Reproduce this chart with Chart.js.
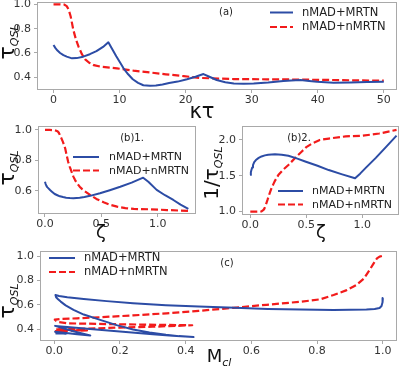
<!DOCTYPE html>
<html>
<head>
<meta charset="utf-8">
<script src="https://cdn.jsdelivr.net/npm/chart.js@4.4.0/dist/chart.umd.min.js"></script>
<style>
  body { margin: 0; background: #fff; }
  #wrap { position: relative; width: 400px; height: 369px; }
  #wrap canvas { position: absolute; left: 0; top: 0; }
</style>
</head>
<body>
<div id="wrap">
  <canvas id="chartA" width="400" height="369"></canvas>
  <canvas id="chartB1" width="400" height="369"></canvas>
  <canvas id="chartB2" width="400" height="369"></canvas>
  <canvas id="chartC" width="400" height="369"></canvas>
</div>
<script>
// ---- data ----
const labelMRTN = "nMAD+MRTN";
const labelNMRTN = "nMAD+nMRTN";

// (a) tau_QSL vs kappa*tau
const aBlueKt = [0, 0.3, 0.6, 1, 1.5, 2, 2.8, 3.5, 4.5, 5.5, 6.5, 7.5, 8.3, 8.9, 9.5, 10.1, 10.6, 11.3, 12, 12.8, 13.6, 14.6, 15.5, 16.5, 17.5, 18.8, 20.2, 21.5, 22.7, 23.6, 24.7, 26, 27.3, 28.8, 30.3, 32.5, 34.8, 36, 37.4, 38.7, 39.9, 42.4, 45, 47.5, 50];
const aBlueTau = [0.666, 0.64, 0.62, 0.6, 0.582, 0.57, 0.556, 0.558, 0.57, 0.59, 0.615, 0.65, 0.688, 0.63, 0.573, 0.52, 0.474, 0.425, 0.384, 0.355, 0.335, 0.33, 0.333, 0.342, 0.353, 0.365, 0.384, 0.405, 0.427, 0.405, 0.378, 0.36, 0.35, 0.347, 0.35, 0.358, 0.37, 0.375, 0.378, 0.37, 0.364, 0.356, 0.358, 0.362, 0.364];
const aRedKt = [0, 1, 1.6, 2.0, 2.3, 2.6, 3.0, 3.4, 3.8, 4.3, 4.8, 5.4, 6.1, 7.1, 8.5, 9.6, 12.1, 14.6, 17, 19.7, 22.2, 25, 27.3, 32.3, 37, 42.4, 46, 50];
const aRedTau = [1.0, 1.0, 0.998, 0.985, 0.955, 0.9, 0.79, 0.71, 0.65, 0.59, 0.548, 0.52, 0.50, 0.488, 0.48, 0.474, 0.455, 0.44, 0.425, 0.41, 0.395, 0.39, 0.386, 0.384, 0.382, 0.378, 0.375, 0.373];
const aTicksX = [0, 10, 20, 30, 40, 50];
const aTicksY = [0.4, 0.6, 0.8, 1.0];

// (b)1 tau_QSL vs zeta
const b1BlueZeta = [0, 0.006, 0.012, 0.02, 0.031, 0.045, 0.059, 0.086, 0.11, 0.132, 0.16, 0.188, 0.22, 0.252, 0.308, 0.35, 0.40, 0.488, 0.575, 0.668, 0.769, 0.871, 0.917, 0.991, 1.065, 1.139, 1.203, 1.272];
const b1BlueTau = [0.661, 0.645, 0.635, 0.625, 0.617, 0.606, 0.597, 0.58, 0.572, 0.565, 0.56, 0.556, 0.554, 0.553, 0.556, 0.561, 0.568, 0.585, 0.605, 0.628, 0.655, 0.687, 0.66, 0.607, 0.572, 0.541, 0.51, 0.482];
const b1RedZeta = [0, 0.04, 0.07, 0.086, 0.1, 0.114, 0.124, 0.132, 0.146, 0.16, 0.179, 0.192, 0.206, 0.22, 0.234, 0.252, 0.266, 0.28, 0.308, 0.33, 0.354, 0.40, 0.456, 0.52, 0.575, 0.64, 0.714, 0.788, 0.936, 1.083, 1.272];
const b1RedTau = [1.0, 1.0, 0.999, 0.998, 0.995, 0.99, 0.98, 0.967, 0.945, 0.92, 0.88, 0.835, 0.79, 0.758, 0.73, 0.694, 0.673, 0.655, 0.628, 0.612, 0.598, 0.574, 0.548, 0.526, 0.51, 0.497, 0.488, 0.482, 0.48, 0.475, 0.469];
const b1TicksX = [0, 0.5, 1.0];
const b1TicksY = [0.6, 0.8, 1.0];

// (b)2 1/tau_QSL vs zeta
const b2BlueZeta = [0, 0.005, 0.01, 0.017, 0.024, 0.035, 0.05, 0.075, 0.1, 0.13, 0.16, 0.22, 0.28, 0.34, 0.42, 0.49, 0.6, 0.7, 0.82, 0.935, 0.98, 1.03, 1.12, 1.21, 1.305];
const b2BlueInv = [1.51, 1.55, 1.58, 1.615, 1.65, 1.69, 1.72, 1.75, 1.77, 1.785, 1.795, 1.80, 1.795, 1.78, 1.74, 1.70, 1.64, 1.58, 1.52, 1.465, 1.53, 1.61, 1.75, 1.90, 2.06];
const b2RedZeta = [0, 0.05, 0.1, 0.115, 0.125, 0.135, 0.144, 0.155, 0.165, 0.178, 0.19, 0.205, 0.22, 0.25, 0.29, 0.34, 0.4, 0.46, 0.5, 0.55, 0.62, 0.7, 0.85, 1.0, 1.15, 1.305];
const b2RedInv = [1.0, 1.0, 1.002, 1.02, 1.04, 1.08, 1.12, 1.17, 1.22, 1.28, 1.33, 1.38, 1.43, 1.51, 1.58, 1.65, 1.75, 1.84, 1.9, 1.95, 2.0, 2.02, 2.05, 2.06, 2.09, 2.14];
const b2TicksX = [0, 0.5, 1.0];
const b2TicksY = [1.0, 1.5, 2.0];

// (c) tau_QSL vs M_cl (parametric)
const cBlueM = [1.0, 0.999, 0.996, 0.99, 0.975, 0.95, 0.9, 0.85, 0.75, 0.65, 0.55, 0.44, 0.34, 0.24, 0.16, 0.09, 0.04, 0.015, 0.004, 0.006, 0.012, 0.02, 0.035, 0.059, 0.09, 0.14, 0.19, 0.24, 0.29, 0.34, 0.38, 0.424, 0.36, 0.3, 0.2, 0.1, 0.04, 0.003, 0.03, 0.07, 0.11, 0.07, 0.03, 0.003, 0.02, 0.035, 0.02, 0.004];
const cBlueTau = [0.655, 0.62, 0.59, 0.574, 0.565, 0.561, 0.559, 0.558, 0.561, 0.566, 0.575, 0.585, 0.597, 0.613, 0.63, 0.648, 0.662, 0.672, 0.68, 0.662, 0.645, 0.626, 0.595, 0.558, 0.52, 0.476, 0.433, 0.398, 0.372, 0.354, 0.343, 0.335, 0.347, 0.358, 0.38, 0.403, 0.417, 0.427, 0.405, 0.375, 0.348, 0.358, 0.37, 0.378, 0.368, 0.362, 0.366, 0.364];
const cRedM = [0.997, 0.99, 0.982, 0.972, 0.963, 0.943, 0.92, 0.89, 0.85, 0.81, 0.75, 0.646, 0.545, 0.44, 0.342, 0.24, 0.14, 0.07, 0.02, 0.002, 0.01, 0.04, 0.2, 0.42, 0.3, 0.2, 0.1, 0.005, 0.05, 0.1, 0.05, 0.005, 0.03, 0.003, 0.015, 0.002];
const cRedTau = [1.0, 0.995, 0.98, 0.94, 0.9, 0.817, 0.763, 0.72, 0.68, 0.645, 0.625, 0.60, 0.575, 0.55, 0.53, 0.513, 0.498, 0.489, 0.484, 0.478, 0.46, 0.448, 0.44, 0.432, 0.42, 0.413, 0.405, 0.398, 0.393, 0.39, 0.386, 0.384, 0.381, 0.379, 0.377, 0.376];
const cTicksX = [0, 0.2, 0.4, 0.6, 0.8, 1.0];
const cTicksY = [0.4, 0.6, 0.8, 1.0];

const BLUE = "#2c4ca5";
const RED = "#f21b1b";
const FONT = '"DejaVu Sans", sans-serif';

const toPoints = (xs, ys) => xs.map((x, i) => ({ x: x, y: ys[i] }));

function blueSet(xs, ys) {
    return { label: labelMRTN, data: toPoints(xs, ys), showLine: true, borderColor: BLUE, borderWidth: 2,
        pointRadius: 0, tension: 0, borderJoinStyle: "round" };
}
function redSet(xs, ys) {
    return { label: labelNMRTN, data: toPoints(xs, ys), showLine: true, borderColor: RED, borderWidth: 2.2,
        borderDash: [7, 3], pointRadius: 0, tension: 0, borderJoinStyle: "round" };
}

// rich text: parts drawn one after another, centred on (x, y) baseline
function drawRich(ctx, t) {
    ctx.save();
    ctx.translate(t.x, t.y);
    if (t.rot) ctx.rotate(t.rot);
    const fontOf = p => (p.italic ? "italic " : "") + p.size + "px " + FONT;
    let w = 0;
    t.parts.forEach(p => { ctx.font = fontOf(p); w += ctx.measureText(p.s).width; });
    let cx = -w / 2;
    ctx.textAlign = "left";
    ctx.textBaseline = "alphabetic";
    ctx.fillStyle = "#111";
    t.parts.forEach(p => {
        ctx.font = fontOf(p);
        ctx.fillText(p.s, cx, p.dy || 0);
        cx += ctx.measureText(p.s).width;
    });
    ctx.restore();
}

// frame, legend inside the axes, titles
const decoPlugin = {
    id: "deco",
    afterDraw(chart, args, opts) {
        const ctx = chart.ctx;
        const a = chart.chartArea;
        ctx.save();
        ctx.strokeStyle = "#a9a9a9";
        ctx.lineWidth = 1;
        ctx.strokeRect(Math.round(a.left) + 0.5, Math.round(a.top) + 0.5,
            Math.round(a.right - a.left) - 1, Math.round(a.bottom - a.top) - 1);

        const lg = opts.legend;
        chart.data.datasets.forEach((ds, i) => {
            const y = lg.y + i * lg.gap;
            ctx.beginPath();
            ctx.strokeStyle = ds.borderColor;
            ctx.lineWidth = ds.borderWidth;
            ctx.setLineDash(ds.borderDash || []);
            ctx.moveTo(lg.x, y);
            ctx.lineTo(lg.x + lg.len, y);
            ctx.stroke();
            ctx.setLineDash([]);
            ctx.fillStyle = "#222";
            ctx.font = lg.size + "px " + FONT;
            ctx.textAlign = "left";
            ctx.textBaseline = "middle";
            ctx.fillText(ds.label, lg.x + lg.len + lg.pad, y + 0.5);
        });

        ctx.fillStyle = "#222";
        ctx.font = "10px " + FONT;
        ctx.textAlign = "center";
        ctx.textBaseline = "middle";
        ctx.fillText(opts.tag.s, opts.tag.x, opts.tag.y);

        opts.texts.forEach(t => drawRich(ctx, t));
        ctx.restore();
    }
};

function makePanel(id, p) {
    const yw = 34, xh = 18;
    const axisOpts = (range, ticks, fmt, isX) => ({
        type: "linear",
        min: range[0],
        max: range[1],
        afterBuildTicks: s => { s.ticks = ticks.map(v => ({ value: v })); },
        afterFit: s => {
            if (isX) s.height = xh; else s.width = yw;
            s.paddingLeft = 0; s.paddingRight = 0; s.paddingTop = 0; s.paddingBottom = 0;
        },
        grid: { drawOnChartArea: false, drawTicks: true, tickLength: 3, color: "#a9a9a9" },
        border: { display: false },
        ticks: { color: "#333", font: { family: FONT, size: 11 }, padding: isX ? 1 : 3,
            maxRotation: 0, autoSkip: false, callback: v => fmt(v) }
    });
    const ar = p.area;
    return new Chart(document.getElementById(id), {
        type: "scatter",
        data: { datasets: p.datasets },
        options: {
            responsive: false,
            animation: false,
            events: [],
            layout: { padding: { left: ar[0] - yw, top: ar[1], right: 400 - ar[2], bottom: 369 - ar[3] - xh } },
            plugins: { legend: { display: false }, tooltip: { enabled: false }, deco: p.deco },
            scales: {
                x: axisOpts(p.xRange, p.xTicks, p.xFmt, true),
                y: axisOpts(p.yRange, p.yTicks, p.yFmt, false)
            }
        },
        plugins: [decoPlugin]
    });
}

const fmt0 = v => v.toFixed(0);
const fmt1 = v => v.toFixed(1);
const UP = -Math.PI / 2;

makePanel("chartA", {
    area: [37, 2, 397, 90],
    xRange: [-2.5, 52], yRange: [0.296, 1.019],
    xTicks: aTicksX, yTicks: aTicksY, xFmt: fmt0, yFmt: fmt1,
    datasets: [blueSet(aBlueKt, aBlueTau), redSet(aRedKt, aRedTau)],
    deco: {
        legend: { x: 270, y: 12.5, gap: 14.5, len: 23, pad: 9, size: 11.5 },
        tag: { s: "(a)", x: 226, y: 12 },
        texts: [
            { x: 14, y: 42, rot: UP, parts: [{ s: "τ", size: 22 }, { s: "QSL", size: 11, italic: true, dy: 4 }] },
            { x: 202, y: 118, parts: [{ s: "κτ", size: 21 }] }
        ]
    }
});

makePanel("chartB1", {
    area: [38, 126, 196, 214],
    xRange: [-0.062, 1.34], yRange: [0.449, 1.026],
    xTicks: b1TicksX, yTicks: b1TicksY, xFmt: fmt1, yFmt: fmt1,
    datasets: [blueSet(b1BlueZeta, b1BlueTau), redSet(b1RedZeta, b1RedTau)],
    deco: {
        legend: { x: 73, y: 157, gap: 13.5, len: 26, pad: 10, size: 11 },
        tag: { s: "(b)1.", x: 132, y: 138 },
        texts: [
            { x: 14, y: 168, rot: UP, parts: [{ s: "τ", size: 22 }, { s: "QSL", size: 11, italic: true, dy: 4 }] },
            { x: 101, y: 238, parts: [{ s: "ζ", size: 18 }] }
        ]
    }
});

makePanel("chartB2", {
    area: [242, 126, 399, 215],
    xRange: [-0.074, 1.327], yRange: [0.953, 2.195],
    xTicks: b2TicksX, yTicks: b2TicksY, xFmt: fmt1, yFmt: fmt1,
    datasets: [blueSet(b2BlueZeta, b2BlueInv), redSet(b2RedZeta, b2RedInv)],
    deco: {
        legend: { x: 278, y: 191, gap: 13.5, len: 25, pad: 9, size: 11 },
        tag: { s: "(b)2.", x: 299, y: 138 },
        texts: [
            { x: 218, y: 173, rot: UP, parts: [{ s: "1/τ", size: 20 }, { s: "QSL", size: 11, italic: true, dy: 4 }] },
            { x: 321, y: 238, parts: [{ s: "ζ", size: 18 }] }
        ]
    }
});

makePanel("chartC", {
    area: [40, 251, 397, 341],
    xRange: [-0.043, 1.043], yRange: [0.303, 1.041],
    xTicks: cTicksX, yTicks: cTicksY, xFmt: fmt1, yFmt: fmt1,
    datasets: [blueSet(cBlueM, cBlueTau), redSet(cRedM, cRedTau)],
    deco: {
        legend: { x: 49, y: 258, gap: 14, len: 26, pad: 9, size: 11.5 },
        tag: { s: "(c)", x: 227, y: 263 },
        texts: [
            { x: 14, y: 301, rot: UP, parts: [{ s: "τ", size: 22 }, { s: "QSL", size: 11, italic: true, dy: 4 }] },
            { x: 219, y: 362, parts: [{ s: "M", size: 18 }, { s: "cl", size: 11, italic: true, dy: 4 }] }
        ]
    }
});
</script>
</body>
</html>
